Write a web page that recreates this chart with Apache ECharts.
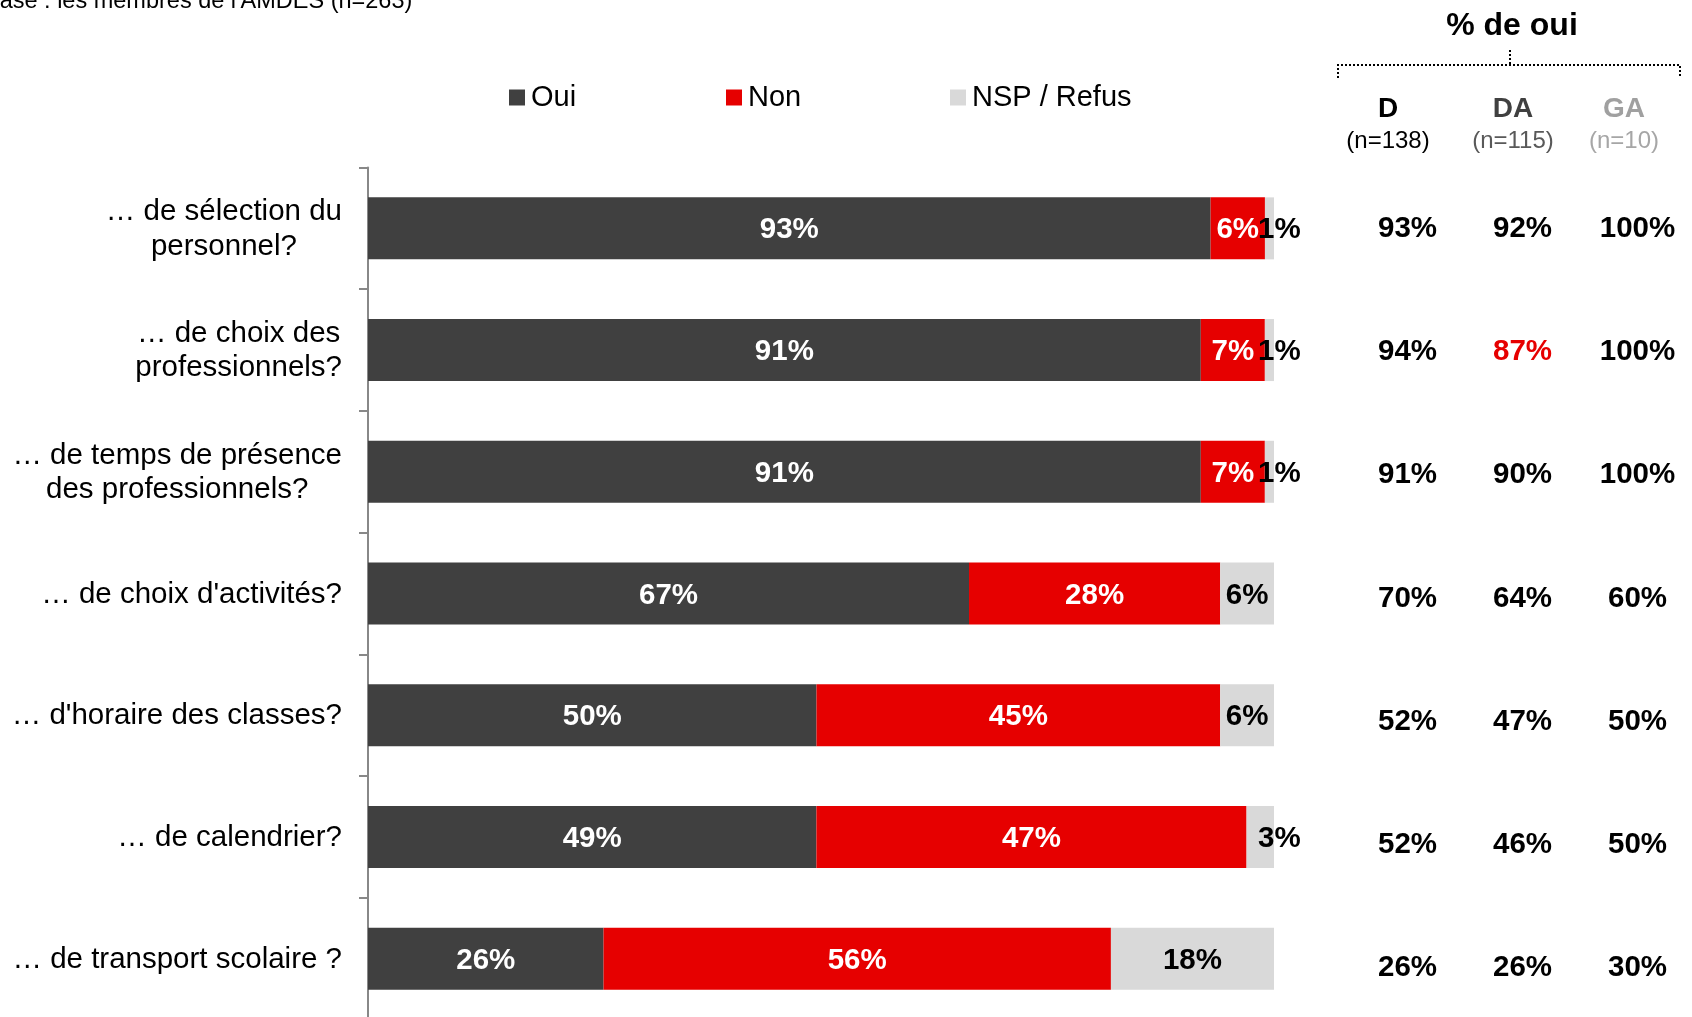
<!DOCTYPE html>
<html>
<head>
<meta charset="utf-8">
<script src="https://cdn.jsdelivr.net/npm/echarts@6/dist/echarts.min.js"></script>
<style>
html,body{margin:0;padding:0;background:#fff;}
#c{width:1692px;height:1017px;}
</style>
</head>
<body>
<div id="c"></div>
<script>
const categories = [
  "… de sélection du\npersonnel?",
  "… de choix des\nprofessionnels?",
  "… de temps de présence\ndes professionnels?",
  "… de choix d'activités?",
  "… d'horaire des classes?",
  "… de calendrier?",
  "… de transport scolaire ?"
];
const seriesNames = ["Oui", "Non", "NSP / Refus"];
const oui = [93, 91, 91, 67, 50, 49, 26];
const non = [6, 7, 7, 28, 45, 47, 56];
const nsp = [1, 1, 1, 6, 6, 3, 18];

const groups = ["D", "DA", "GA"];
const groupN = ["(n=138)", "(n=115)", "(n=10)"];
const dVals = [93, 94, 91, 70, 52, 52, 26];
const daVals = [92, 87, 90, 64, 47, 46, 26];
const gaVals = [100, 100, 100, 60, 50, 50, 30];
const baseText = "Base : les membres de l'AMDES (n=263)";
const tableTitle = "% de oui";

// style-related (not data)
const highlightCells = { "1,1": true }; // [column,row] shown in red
const FONT = "'Liberation Sans', Arial, sans-serif";
const colors = ["#404040", "#e60000", "#d9d9d9"];

const rowTotals = oui.map((v, i) => v + non[i] + nsp[i]);
function barData(arr, smallOutside) {
  return arr.map((v, i) => {
    const d = { value: v / rowTotals[i] * 100, raw: v };
    if (smallOutside && v <= 3) {
      d.label = { position: 'right', distance: 0, offset: [-16, 2] };
    }
    return d;
  });
}

const chart = echarts.init(document.getElementById('c'), null, { renderer: 'canvas' });

const labelBase = {
  show: true,
  fontFamily: FONT,
  fontSize: 29.5,
  fontWeight: 'bold',
  offset: [0, 2],
  formatter: p => p.data.raw + '%'
};

const tableData = [];
[dVals, daVals, gaVals].forEach((arr, ci) => {
  arr.forEach((v, ri) => {
    tableData.push({
      value: [ci, ri, v],
      label: { color: highlightCells[ci + ',' + ri] ? '#e60000' : '#000000' }
    });
  });
});

const headerX = [1388, 1513, 1624];
const headerColors = ["#000000", "#404040", "#a0a0a0"];
const nColors = ["#000000", "#595959", "#a6a6a6"];

const graphics = [
  {
    type: 'text', left: -16, top: -10,
    style: { text: baseText, font: '23.5px ' + FONT, fill: '#000' }
  },
  {
    type: 'text', x: 1512, y: 26,
    style: { text: tableTitle, font: 'bold 32px ' + FONT, fill: '#000', align: 'center', verticalAlign: 'middle' }
  },
  {
    type: 'polyline',
    shape: { points: [[1338, 78], [1338, 65], [1680, 65], [1680, 78]] },
    style: { stroke: '#000', lineWidth: 2, lineDash: [2, 2], fill: null }
  },
  {
    type: 'line',
    shape: { x1: 1510, y1: 50, x2: 1510, y2: 64 },
    style: { stroke: '#000', lineWidth: 2, lineDash: [2, 2] }
  }
];
groups.forEach((g, i) => {
  graphics.push({
    type: 'text', x: headerX[i], y: 109,
    style: { text: g, font: 'bold 28px ' + FONT, fill: headerColors[i], align: 'center', verticalAlign: 'middle' }
  });
  graphics.push({
    type: 'text', x: headerX[i], y: 141,
    style: { text: groupN[i], font: '24px ' + FONT, fill: nColors[i], align: 'center', verticalAlign: 'middle' }
  });
});

const legendLefts = [509, 726, 950];
const legends = seriesNames.map((n, i) => ({
  data: [n],
  left: legendLefts[i],
  top: 83,
  padding: 0,
  icon: 'rect',
  itemWidth: 16,
  itemHeight: 16,
  itemGap: 0,
  selectedMode: false,
  textStyle: { fontFamily: FONT, fontSize: 29, color: '#000', padding: [0, 0, 0, 1] }
}));

chart.setOption({
  animation: false,
  backgroundColor: '#ffffff',
  graphic: graphics,
  legend: legends,
  grid: [
    { left: 368, top: 167.5, width: 906, height: 852, outerBoundsMode: 'none', containLabel: false },
    { left: 1350, top: 167, width: 345, height: 863, outerBoundsMode: 'none', containLabel: false }
  ],
  xAxis: [
    { gridIndex: 0, type: 'value', min: 0, max: 100, show: false },
    { gridIndex: 1, type: 'category', data: groups, show: false }
  ],
  yAxis: [
    {
      gridIndex: 0,
      type: 'category',
      data: categories,
      inverse: true,
      axisLine: { show: true, lineStyle: { color: '#888888', width: 2 } },
      axisTick: { show: true, length: 9, lineStyle: { color: '#888888', width: 2 } },
      splitLine: { show: false },
      axisLabel: {
        margin: 26,
        align: 'right',
        color: '#000',
        fontFamily: FONT,
        fontSize: 29.5,
        lineHeight: 34.5,
        formatter: v => v.split('\n').map(s => '{c|' + s + '}').join('\n'),
        rich: { c: { align: 'center', fontFamily: FONT, fontSize: 29.5, lineHeight: 34.5, color: '#000', padding: [2, 0, 0, 0] } }
      }
    },
    { gridIndex: 1, type: 'category', data: categories, inverse: true, show: false }
  ],
  series: [
    {
      name: seriesNames[0], type: 'bar', stack: 'a', barWidth: 62,
      xAxisIndex: 0, yAxisIndex: 0,
      itemStyle: { color: colors[0] },
      label: Object.assign({}, labelBase, { color: '#fff' }),
      data: barData(oui, false)
    },
    {
      name: seriesNames[1], type: 'bar', stack: 'a', barWidth: 62,
      xAxisIndex: 0, yAxisIndex: 0,
      itemStyle: { color: colors[1] },
      label: Object.assign({}, labelBase, { color: '#fff' }),
      data: barData(non, false)
    },
    {
      name: seriesNames[2], type: 'bar', stack: 'a', barWidth: 62,
      xAxisIndex: 0, yAxisIndex: 0,
      itemStyle: { color: colors[2] },
      label: Object.assign({}, labelBase, { color: '#000' }),
      data: barData(nsp, true)
    },
    {
      type: 'scatter', xAxisIndex: 1, yAxisIndex: 1,
      symbolSize: 0,
      itemStyle: { color: '#000', opacity: 1 },
      label: {
        show: true, position: 'inside', opacity: 1,
        fontFamily: FONT, fontSize: 29.5, fontWeight: 'bold',
        formatter: p => p.value[2] + '%'
      },
      emphasis: { disabled: true },
      data: tableData,
      silent: true
    }
  ]
});
</script>
</body>
</html>
